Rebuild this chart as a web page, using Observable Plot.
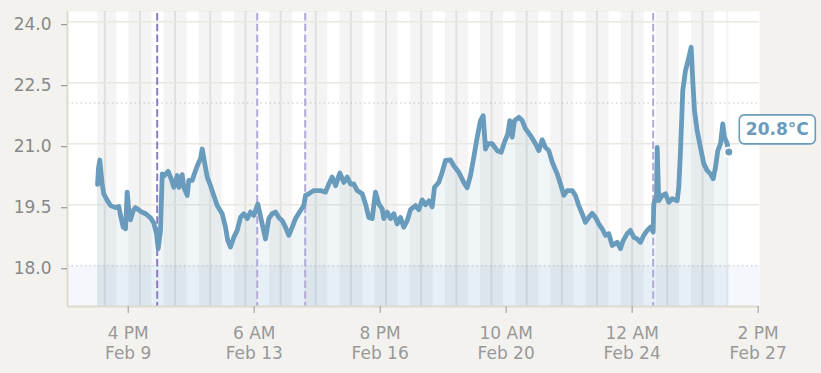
<!DOCTYPE html>
<html><head><meta charset="utf-8">
<script src="https://cdn.jsdelivr.net/npm/d3@7"></script>
<script src="https://cdn.jsdelivr.net/npm/@observablehq/plot@0.6"></script>
<style>
html,body{margin:0;padding:0;background:#f3f2ee;}
#chart svg{display:block;}
</style></head><body><div id="chart"></div>
<script>
const YEAR = 2025;
// fractional day of February for each reading
const readingDays = [8.794, 8.822, 8.859, 8.893, 8.927, 8.973, 9.069, 9.163, 9.305, 9.399, 9.448, 9.524, 9.590, 9.638, 9.684, 9.732, 9.809, 9.874, 10.016, 10.159, 10.301, 10.395, 10.472, 10.520, 10.585, 10.634, 10.699, 10.804, 10.870, 10.964, 11.060, 11.106, 11.202, 11.248, 11.345, 11.390, 11.487, 11.581, 11.675, 11.723, 11.771, 11.837, 11.914, 12.007, 12.101, 12.198, 12.340, 12.434, 12.499, 12.576, 12.670, 12.767, 12.861, 12.954, 13.051, 13.145, 13.239, 13.353, 13.478, 13.572, 13.665, 13.762, 13.856, 13.950, 14.047, 14.140, 14.234, 14.331, 14.425, 14.567, 14.661, 14.709, 14.803, 14.945, 15.136, 15.278, 15.372, 15.469, 15.563, 15.685, 15.799, 15.895, 15.989, 16.083, 16.180, 16.322, 16.416, 16.510, 16.606, 16.700, 16.794, 16.891, 16.936, 17.033, 17.127, 17.221, 17.317, 17.411, 17.505, 17.602, 17.696, 17.838, 17.932, 18.028, 18.122, 18.222, 18.313, 18.378, 18.500, 18.597, 18.691, 18.833, 18.927, 19.069, 19.211, 19.308, 19.402, 19.496, 19.593, 19.687, 19.763, 19.829, 19.894, 20.019, 20.162, 20.275, 20.369, 20.463, 20.520, 20.588, 20.654, 20.776, 20.872, 20.966, 21.109, 21.251, 21.345, 21.441, 21.535, 21.629, 21.726, 21.868, 21.962, 22.056, 22.152, 22.295, 22.389, 22.482, 22.579, 22.673, 22.767, 22.863, 22.957, 23.051, 23.148, 23.242, 23.335, 23.432, 23.574, 23.668, 23.745, 23.859, 23.953, 24.047, 24.143, 24.237, 24.331, 24.428, 24.521, 24.598, 24.615, 24.692, 24.712, 24.757, 24.854, 24.948, 25.042, 25.139, 25.281, 25.326, 25.375, 25.440, 25.517, 25.611, 25.679, 25.724, 25.773, 25.849, 25.943, 26.037, 26.134, 26.228, 26.305, 26.370, 26.436, 26.513, 26.578, 26.626, 26.703, 26.749];
const readingTemps = [20.0, 20.4, 20.6, 20.3, 20.0, 19.77, 19.61, 19.48, 19.43, 19.46, 19.24, 18.95, 18.91, 19.81, 19.36, 19.13, 19.36, 19.43, 19.34, 19.28, 19.18, 19.05, 18.79, 18.42, 18.87, 20.26, 20.22, 20.32, 20.18, 19.93, 20.22, 19.93, 20.24, 19.93, 19.73, 20.1, 20.1, 20.34, 20.55, 20.63, 20.87, 20.55, 20.18, 19.97, 19.73, 19.48, 19.28, 18.95, 18.62, 18.46, 18.70, 18.87, 19.19, 19.28, 19.16, 19.32, 19.24, 19.52, 19.03, 18.66, 19.16, 19.28, 19.32, 19.19, 19.11, 18.95, 18.75, 18.95, 19.16, 19.36, 19.48, 19.73, 19.77, 19.85, 19.85, 19.81, 20.01, 20.18, 19.97, 20.28, 20.05, 20.18, 20.01, 20.01, 19.85, 19.77, 19.52, 19.19, 19.16, 19.81, 19.52, 19.40, 19.16, 19.32, 19.16, 19.28, 19.03, 19.19, 18.95, 19.11, 19.38, 19.48, 19.38, 19.62, 19.50, 19.60, 19.45, 19.93, 20.05, 20.30, 20.59, 20.60, 20.46, 20.30, 20.05, 19.92, 20.22, 20.67, 21.16, 21.57, 21.69, 20.87, 21.0, 21.0, 20.83, 20.79, 21.04, 21.24, 21.57, 21.16, 21.57, 21.65, 21.57, 21.37, 21.20, 21.0, 20.83, 21.1, 20.91, 20.83, 20.55, 20.26, 20.01, 19.73, 19.85, 19.85, 19.72, 19.48, 19.28, 19.07, 19.19, 19.29, 19.19, 19.03, 18.91, 18.75, 18.79, 18.50, 18.58, 18.42, 18.62, 18.79, 18.87, 18.70, 18.66, 18.58, 18.75, 18.87, 18.95, 18.83, 19.52, 19.69, 20.91, 19.60, 19.73, 19.77, 19.56, 19.65, 19.60, 19.93, 20.83, 22.31, 22.80, 23.12, 23.37, 22.55, 21.81, 21.32, 20.91, 20.51, 20.34, 20.26, 20.14, 20.42, 20.83, 21.0, 21.49, 21.16, 21.0, 20.8];

const eventDays = [10.491, 13.336, 14.701, 24.598];
const eventKinds = ["main", "other", "other", "other"];

const yTicks = [18, 19.5, 21, 22.5, 24];
const yDomain = [17, 24.25];
const xDomainDays = [7.94, 27.622];
const xTickDays = [9 + 16/24, 13 + 6/24, 16 + 20/24, 20 + 10/24, 24, 27 + 14/24];
const xTickLabels = ["4 PM\nFeb 9", "6 AM\nFeb 13", "8 PM\nFeb 16", "10 AM\nFeb 20", "12 AM\nFeb 24", "2 PM\nFeb 27"];
const coldLimit = 18, warmLimit = 22;
const sunriseHour = 8.25, sunsetHour = 16.5;
const unit = "°C";

const lineColor = "#699cbc";
const toDate = d => new Date(new Date(YEAR, 1, 0).getTime() + d * 864e5);

const data = readingDays.map((d, i) => ({date: toDate(d), temp: readingTemps[i]}));
const last = data[data.length - 1];
const startDay = readingDays[0], endDay = readingDays[readingDays.length - 1];

const nights = [];
for (let d = Math.floor(startDay) - 1; d <= Math.floor(endDay); d++) {
  const a = Math.max(startDay, d + sunsetHour / 24);
  const b = Math.min(endDay, d + 1 + sunriseHour / 24);
  if (a < b) nights.push({start: toDate(a), end: toDate(b)});
}
const midnights = [];
for (let d = Math.ceil(startDay); d <= Math.floor(endDay); d++) midnights.push(toDate(d));

const events = eventDays.map((d, i) => ({date: toDate(d), kind: eventKinds[i]}));
const xMin = toDate(xDomainDays[0]), xMax = toDate(xDomainDays[1]);
const tickDates = xTickDays.map(toDate);
const labelByTime = new Map(tickDates.map((t, i) => [t.getTime(), xTickLabels[i]]));

const chart = Plot.plot({
  width: 821, height: 373,
  marginLeft: 67, marginRight: 62, marginTop: 11, marginBottom: 67,
  style: {background: "#f3f2ee", fontFamily: "DejaVu Sans", fontSize: "17px", overflow: "visible"},
  x: {type: "time", domain: [xMin, xMax]},
  y: {domain: yDomain},
  marks: [
    Plot.frame({fill: "white", stroke: "none"}),
    Plot.rect([coldLimit], {x1: () => xMin, x2: () => xMax, y1: () => yDomain[0], y2: d => d, fill: "#3d8fd6", fillOpacity: 0.06}),
    Plot.rect(nights, {x1: "start", x2: "end", y1: () => yDomain[0], y2: () => yDomain[1], fill: "#000", fillOpacity: 0.045}),
    Plot.ruleX(midnights, {stroke: "#000", strokeOpacity: 0.08, strokeWidth: 2}),
    Plot.ruleY(yTicks.filter(t => t !== coldLimit), {stroke: "#e9e7df", strokeWidth: 1.5}),
    Plot.ruleY([coldLimit, warmLimit], {stroke: "#c4c4c4", strokeDasharray: "1.5,3"}),
    Plot.areaY(data, {x: "date", y1: () => yDomain[0], y2: "temp", fill: lineColor, fillOpacity: 0.1}),
    Plot.ruleX(events, {x: "date", stroke: d => d.kind === "main" ? "#8e7cc0" : "#b2a9d6", strokeDasharray: "7.5,3.2", strokeDashoffset: -2, strokeWidth: 2}),
    Plot.line(data, {x: "date", y: "temp", stroke: lineColor, strokeWidth: 4.8, strokeLinejoin: "round", strokeLinecap: "round"}),
    Plot.dot([last], {x: "date", y: "temp", r: 4.5, fill: lineColor, stroke: "white", strokeWidth: 2}),
    Plot.ruleX([xMin], {stroke: "#dddacf", strokeWidth: 2}),
    Plot.ruleY([yDomain[0]], {stroke: "#dddacf", strokeWidth: 2}),
    Plot.axisY(yTicks, {tickFormat: d => d.toFixed(1), tickSize: 6, tickPadding: 10, fontSize: 17, color: "#888", label: null, dy: 3}),
    Plot.axisX(tickDates, {tickFormat: d => labelByTime.get(d.getTime()), tickSize: 7, tickPadding: 11.5, fontSize: 17, color: "#999", lineHeight: 1.18, label: null})
  ]
});

// value label box next to the latest reading, positioned through the chart's scales
const sx = chart.scale("x").apply(last.date), sy = chart.scale("y").apply(last.temp);
const g = d3.select(chart).append("g");
const bx = sx + 11, by = sy - 36.5;
g.append("rect").attr("x", bx).attr("y", by).attr("width", 76).attr("height", 29).attr("rx", 5)
  .attr("fill", "white").attr("stroke", lineColor).attr("stroke-width", 1.6);
g.append("text").attr("x", bx + 38).attr("y", by + 20).attr("text-anchor", "middle")
  .attr("font-family", "DejaVu Sans").attr("font-weight", "bold").attr("font-size", 17)
  .attr("fill", lineColor).text(last.temp.toFixed(1) + unit);

document.getElementById("chart").append(chart);
</script></body></html>
